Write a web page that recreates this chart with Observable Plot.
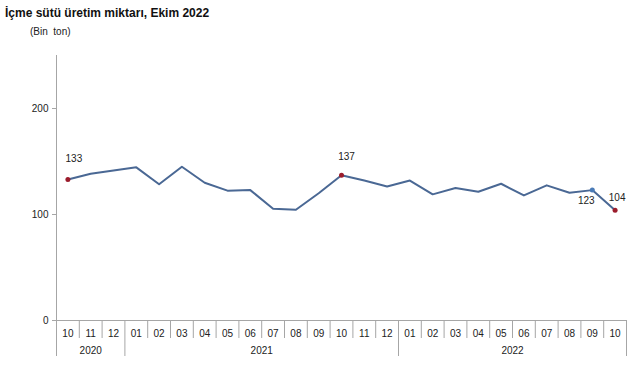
<!DOCTYPE html>
<html>
<head>
<meta charset="utf-8">
<script src="https://cdn.jsdelivr.net/npm/d3@7"></script>
<script src="https://cdn.jsdelivr.net/npm/@observablehq/plot@0.6"></script>
<style>
  body { margin: 0; background: #fff; font-family: "Liberation Sans", Arial, sans-serif; }
  #wrap { width: 636px; }
  #header { position: relative; height: 40px; }
  #title { position: absolute; left: 5px; top: 6px; font-size: 12px; font-weight: bold; color: #111; white-space: nowrap; }
  #unit { position: absolute; left: 30px; top: 26px; font-size: 10px; color: #222; white-space: pre; }
  svg { display: block; }
</style>
</head>
<body>
<div id="wrap">
  <div id="header">
    <div id="title">İçme sütü üretim miktarı, Ekim 2022</div>
    <div id="unit">(Bin  ton)</div>
  </div>
  <div id="chart"></div>
</div>
<script>
const months = ["10","11","12","01","02","03","04","05","06","07","08","09","10","11","12","01","02","03","04","05","06","07","08","09","10"];
const monthYears = [2020,2020,2020,2021,2021,2021,2021,2021,2021,2021,2021,2021,2021,2021,2021,2022,2022,2022,2022,2022,2022,2022,2022,2022,2022];
const values = [133,138.5,141.5,144.5,128.5,145,130,122.5,123,105.5,104.5,120,137,132,126.5,132,119,125,121.5,129,118,127.5,120.5,123,104];
const yTicks = [0,100,200];
const redIdx = [0,12,24];
const blueIdx = [23];
const labelTexts = ["133","137","123","104"];
const labelIdx = [0,12,23,24];

const pts = values.map((v, i) => ({i, x: i + 0.5, v, m: months[i], yr: monthYears[i]}));

// year groups
const years = Array.from(new Set(monthYears));
const yearGroups = years.map(y => {
  const idx = pts.filter(p => p.yr === y).map(p => p.i);
  return {year: String(y), start: d3.min(idx), end: d3.max(idx) + 1};
});
const yearBounds = Array.from(new Set(yearGroups.flatMap(g => [g.start, g.end])));
const monthBounds = d3.range(1, months.length).filter(b => !yearBounds.includes(b));

const labelData = labelIdx.map((i, k) => ({x: i + 0.5, v: values[i], t: labelTexts[k], k}));
const labelDx = [6, 5, -6, 2];
const labelDy = [-21, -18, 11, -12];

const gray = "#a6a6a6";
const chart = Plot.plot({
  width: 636,
  height: 330,
  marginLeft: 56,
  marginRight: 10,
  marginTop: 15,
  marginBottom: 50,
  style: {fontFamily: "'Liberation Sans', Arial, sans-serif", fontSize: "10px", color: "#222", background: "#fff"},
  x: {domain: [0, months.length], axis: null, label: null},
  y: {domain: [0, 250], axis: null, label: null},
  marks: [
    Plot.frame({anchor: "left", stroke: gray}),
    Plot.ruleY([0], {stroke: gray}),
    Plot.axisY({ticks: yTicks, tickSize: 4, tickPadding: 4, stroke: gray, fill: "#222", fontSize: 10, label: null}),
    Plot.axisX({ticks: monthBounds, tickSize: 18, tickFormat: () => "", stroke: gray, label: null}),
    Plot.axisX({ticks: yearBounds, tickSize: 36, tickFormat: () => "", stroke: gray, label: null}),
    Plot.text(pts, {x: "x", y: 0, text: "m", dy: 13, fontSize: 10, fill: "#222"}),
    Plot.text(yearGroups, {x: d => (d.start + d.end) / 2, y: 0, text: "year", dy: 30, fontSize: 10, fill: "#222"}),
    Plot.line(pts, {x: "x", y: "v", stroke: "#4a6894", strokeWidth: 2, curve: "linear"}),
    Plot.dot(pts.filter(p => redIdx.includes(p.i)), {x: "x", y: "v", r: 2.5, fill: "#9b1c2c", stroke: "none"}),
    Plot.dot(pts.filter(p => blueIdx.includes(p.i)), {x: "x", y: "v", r: 2.5, fill: "#4a7bb7", stroke: "none"}),
    ...labelData.map(d => Plot.text([d], {x: "x", y: "v", text: "t", dx: labelDx[d.k], dy: labelDy[d.k], fontSize: 10, fill: "#222"}))
  ]
});
document.getElementById("chart").appendChild(chart);
</script>
</body>
</html>
